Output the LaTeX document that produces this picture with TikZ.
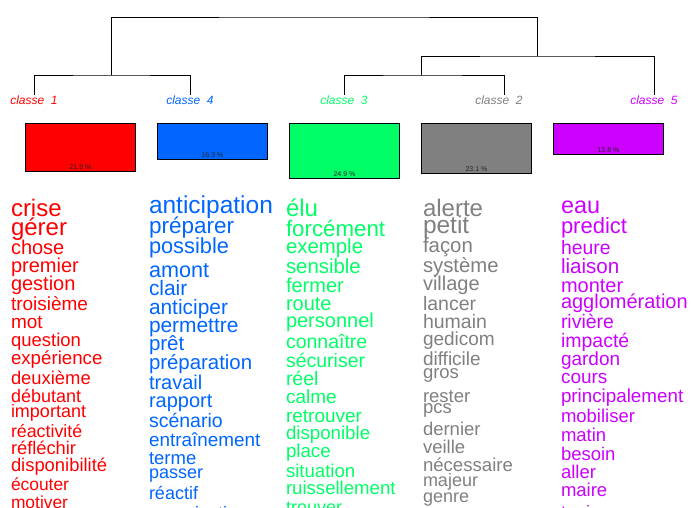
\documentclass[tikz,border=0pt]{standalone}
\usepackage{fontspec}
\setmainfont{Liberation Sans}
\definecolor{cred}{HTML}{FF0000}
\definecolor{cblue}{HTML}{0066FF}
\definecolor{cgreen}{HTML}{00FF66}
\definecolor{cgray}{HTML}{808080}
\definecolor{cmag}{HTML}{CC00FF}
\begin{document}
\begin{tikzpicture}[x=1pt,y=-1pt,
  word/.style={anchor=base west, inner sep=0pt, outer sep=0pt},
  cls/.style={anchor=base, inner sep=0pt, font=\fontsize{12}{12}\selectfont\itshape},
  bar/.style={draw=black, line width=0.9pt, anchor=north west, inner sep=0pt, minimum width=110pt},
  pct/.style={anchor=south, font=\fontsize{7}{7}\selectfont, text=black!85, inner sep=2pt},
  dendro/.style={line width=1pt, draw=black}]
\useasboundingbox (0,0) rectangle (691,507);
\clip (0,0) rectangle (691,507);
% dendrogram
\coordinate (c1) at (34,95);
\coordinate (c4) at (190,95);
\coordinate (c3) at (344,95);
\coordinate (c2) at (504,95);
\coordinate (c5) at (654,95);
\coordinate (j14) at (111,75);
\coordinate (j32) at (421,75);
\coordinate (j325) at (537,56);
\coordinate (root) at (324,17);
\draw[dendro] (c1) |- (j14) -| (c4);
\draw[dendro] (c3) |- (j32) -| (c2);
\draw[dendro] (j32) |- (j325) -| (c5);
\draw[dendro] (j14) |- (root) -| (j325);
% class labels
\node[cls, text=cred] (l1) at (34,104) {classe\ \ 1};
\node[cls, text=cblue] (l4) at (190,104) {classe\ \ 4};
\node[cls, text=cgreen] (l3) at (344,104) {classe\ \ 3};
\node[cls, text=cgray] (l2) at (499,104) {classe\ \ 2};
\node[cls, text=cmag] (l5) at (654,104) {classe\ \ 5};
% bars
\node[bar, fill=cred, minimum height=48pt] (b1) at (25,123) {};
\node[bar, fill=cblue, minimum height=36pt] (b4) at (157,123) {};
\node[bar, fill=cgreen, minimum height=55pt] (b3) at (289,123) {};
\node[bar, fill=cgray, minimum height=50pt] (b2) at (421,123) {};
\node[bar, fill=cmag, minimum height=31pt] (b5) at (553,123) {};
\node[pct] (p1) at (b1.south) {21.9 \%};
\node[pct] (p4) at (b4.south) {16.3 \%};
\node[pct] (p3) at (b3.south) {24.9 \%};
\node[pct] (p2) at (b2.south) {23.1 \%};
\node[pct] (p5) at (b5.south) {13.8 \%};
% word lists
\foreach \t/\y/\s [count=\i] in {crise/216/24, gérer/235/24, chose/254/20, premier/272/20, gestion/290/20, troisième/310/19, mot/328/19, question/346/18.5, expérience/364/18.7, deuxième/384/18.4, débutant/402/18, important/417/18, réactivité/437/17.8, réfléchir/454/18.3, disponibilité/471/18.4, écouter/490/17.4, motiver/508/17.4}
  \node[word, text=cred, font=\fontsize{\s}{\s}\selectfont] (r\i) at (11,\y) {\t};
\foreach \t/\y/\s [count=\i] in {anticipation/213/24.5, préparer/233/22.5, possible/253/21.8, amont/277/21.6, clair/295/20.9, anticiper/314/20.9, permettre/332/20.9, prêt/350/20.5, préparation/369/20.4, travail/389/20, rapport/407/20, scénario/427/19.5, entraînement/446/18.9, terme/464/18.5, passer/478/18, réactif/499/18, organisation/519/18}
  \node[word, text=cblue, font=\fontsize{\s}{\s}\selectfont] (u\i) at (149,\y) {\t};
\foreach \t/\y/\s [count=\i] in {élu/216/24, forcément/236/22.3, exemple/253/20.4, sensible/273/20.4, fermer/292/20, route/310/20, personnel/327/20, connaître/348/19.5, sécuriser/367/19.5, réel/385/19.5, calme/403/19, retrouver/422/19, disponible/439/18.7, place/457/18.7, situation/477/18.6, ruissellement/494/18.6, trouver/513/18}
  \node[word, text=cgreen, font=\fontsize{\s}{\s}\selectfont] (g\i) at (286,\y) {\t};
\foreach \t/\y/\s [count=\i] in {alerte/216/24, petit/233/24.5, façon/252/20.4, système/272/20.3, village/290/20, lancer/310/19.5, humain/328/19.5, gedicom/345/19, difficile/365/19, gros/378/18.5, rester/402/18.5, pcs/413/18.5, dernier/435/18.5, veille/453/18.5, nécessaire/471/18.6, majeur/486/18, genre/502/18}
  \node[word, text=cgray, font=\fontsize{\s}{\s}\selectfont] (a\i) at (423,\y) {\t};
\foreach \t/\y/\s [count=\i] in {eau/213/23.4, predict/233/22, heure/254/19.4, liaison/273/20.6, monter/292/20, agglomération/308/20, rivière/328/19.5, impacté/347/19.5, gardon/365/19, cours/383/19, principalement/402/18.8, mobiliser/422/18.5, matin/441/18.5, besoin/460/18.5, aller/478/18.5, maire/496/18.5, toujours/518/18}
  \node[word, text=cmag, font=\fontsize{\s}{\s}\selectfont] (m\i) at (561,\y) {\t};
\end{tikzpicture}
\end{document}
